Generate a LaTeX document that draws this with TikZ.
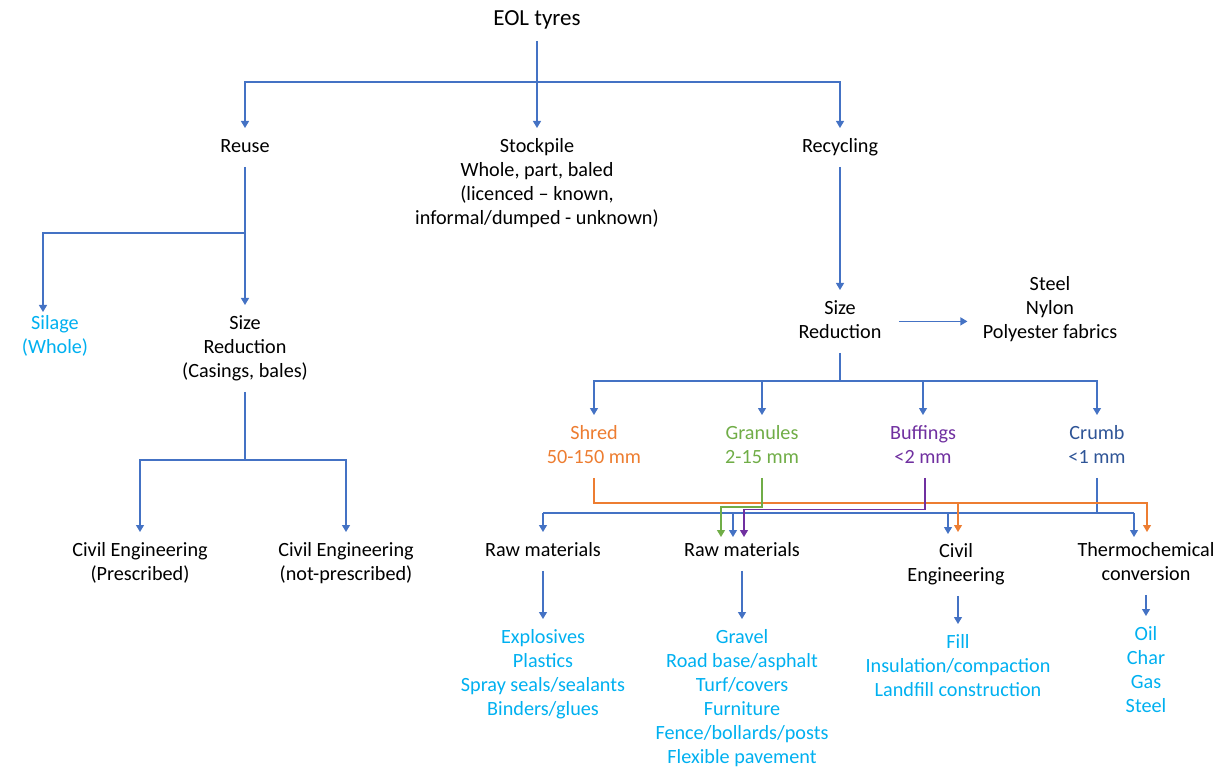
\documentclass[tikz,border=0pt]{standalone}
\usepackage{fontspec}
\setmainfont{Carlito}
\usetikzlibrary{arrows.meta,calc}
\definecolor{lineblue}{HTML}{4472C4}
\definecolor{shredc}{HTML}{ED7D31}
\definecolor{granc}{HTML}{70AD47}
\definecolor{buffc}{HTML}{7030A0}
\definecolor{crumbc}{HTML}{2F5597}
\definecolor{usec}{HTML}{00B0F0}
% centred lines, each with a full strut, so that every label sits the same way under its arrow
\newcommand\mlines[1]{\begin{tabular}{@{}c@{}}#1\end{tabular}}
\begin{document}
\begin{tikzpicture}[x=0.5pt,y=-0.5pt,
  lbl/.style={font=\fontsize{10.1}{12}\selectfont, inner xsep=0pt,
    inner ysep=3.5pt, anchor=north},
  uselbl/.style={lbl, text=usec},
  wire/.style={line width=0.6pt, draw=#1},
  wire/.default=lineblue,
  arr/.style={wire=#1, -{Triangle[width=4pt,length=3.5pt]}},
  arr/.default=lineblue]
\useasboundingbox (0,0) rectangle (1229,769);

% ---- nodes ----
\node[lbl, font=\fontsize{11.5}{13}\selectfont] (eol) at (537,0) {\mlines{EOL tyres}};
\node[lbl] (reuse) at (245,128) {\mlines{Reuse}};
\node[lbl] (stock) at (537,128) {\mlines{Stockpile\\Whole, part, baled\\(licenced – known,\\informal/dumped - unknown)}};
\node[lbl] (recyc) at (840,128) {\mlines{Recycling}};

\node[uselbl] (silage) at (55,305) {\mlines{Silage\\(Whole)}};
\node[lbl] (sr1) at (245,305) {\mlines{Size\\Reduction\\(Casings, bales)}};
\node[lbl] (ce1) at (140,532) {\mlines{Civil Engineering\\(Prescribed)}};
\node[lbl] (ce2) at (346,532) {\mlines{Civil Engineering\\(not-prescribed)}};

\node[lbl] (sr2) at (840,290) {\mlines{Size\\Reduction}};
\node[lbl] (metals) at (1050,266) {\mlines{Steel\\Nylon\\Polyester fabrics}};

\node[lbl, text=shredc] (shred) at (594,415) {\mlines{Shred\\50-150 mm}};
\node[lbl, text=granc] (gran) at (762,415) {\mlines{Granules\\2-15 mm}};
\node[lbl, text=buffc] (buff) at (923,415) {\mlines{Buffings\\<2 mm}};
\node[lbl, text=crumbc] (crumb) at (1097,415) {\mlines{Crumb\\<1 mm}};

\node[lbl] (raw1) at (543,532) {\mlines{Raw materials}};
\node[lbl] (raw2) at (742,532) {\mlines{Raw materials}};
\node[lbl] (civ) at (956,533) {\mlines{Civil\\Engineering}};
\node[lbl] (thermo) at (1146,532) {\mlines{Thermochemical\\conversion}};

\node[uselbl] (o1) at (543,619) {\mlines{Explosives\\Plastics\\Spray seals/sealants\\Binders/glues}};
\node[uselbl] (o2) at (742,619) {\mlines{Gravel\\Road base/asphalt\\Turf/covers\\Furniture\\Fence/bollards/posts\\Flexible pavement}};
\node[uselbl] (o3) at (958,624) {\mlines{Fill\\Insulation/compaction\\Landfill construction}};
\node[uselbl] (o4) at (1146,616) {\mlines{Oil\\Char\\Gas\\Steel}};

% ---- junctions and arrow tips ----
\coordinate (j0) at (537,82);
\coordinate (j1) at (245,233);
\coordinate (j2) at (245,460);
\coordinate (j3) at (840,381);
\path (0,503) coordinate (yO) (0,507) coordinate (yG) (0,509.5) coordinate (yP) (0,513) coordinate (yB);
\coordinate (tGraw) at ($(raw2.north)+(-21,5)$);
\coordinate (tBraw) at ($(raw2.north)+(-9,5)$);
\coordinate (tPraw) at ($(raw2.north)+(2,5)$);
\coordinate (tBciv) at ($(civ.north)+(-8,1)$);
\coordinate (tOciv) at ($(civ.north)+(2,-1)$);
\coordinate (tBth) at ($(thermo.north)+(-12,5)$);
\coordinate (tOth) at ($(thermo.north)+(1,0)$);

% ---- top level ----
\draw[arr] (eol.south) -- (stock.north);
\draw[arr] (j0) -| (reuse.north);
\draw[arr] (j0) -| (recyc.north);

% ---- reuse branch ----
\draw[arr] (reuse.south) -- (sr1.north);
\draw[arr] (j1) -| ([xshift=-6pt,yshift=-3.5pt]silage.north);
\draw[arr] (sr1.south) -- (j2) -| (ce1.north);
\draw[arr] (j2) -| (ce2.north);

% ---- recycling branch ----
\draw[arr] (recyc.south) -- (sr2.north);
\draw[arr] ([xshift=8.5pt]sr2.east) -- ([xshift=-7.5pt]metals.west |- sr2.east);
\draw[arr] (sr2.south) -- (j3) -| (shred.north);
\draw[arr] (j3) -| (gran.north);
\draw[arr] (j3) -| (buff.north);
\draw[arr] (j3) -| (crumb.north);

% ---- crumb bus (blue) ----
\draw[wire] (crumb.south) -- (crumb.south |- yB);
\draw[wire] (raw1.north |- yB) -- (tBth |- yB);
\draw[arr] (raw1.north |- yB) -- (raw1.north);
\draw[arr] (tBraw |- yB) -- (tBraw);
\draw[arr] (tBciv |- yB) -- (tBciv);
\draw[arr] (tBth |- yB) -- (tBth);

% ---- shred (orange) ----
\draw[arr=shredc] (shred.south) |- (tOth |- yO) -- (tOth);
\draw[arr=shredc] (tOciv |- yO) -- (tOciv);

% ---- granules (green) ----
\draw[arr=granc] (gran.south) |- (tGraw |- yG) -- (tGraw);

% ---- buffings (purple) ----
\draw[arr=buffc] ([xshift=1pt]buff.south) |- (tPraw |- yP) -- (tPraw);

% ---- outputs ----
\draw[arr] (raw1.south) -- (o1.north);
\draw[arr] (raw2.south) -- (o2.north);
\draw[arr] ([xshift=1pt]civ.south) -- (o3.north);
\draw[arr] (thermo.south) -- (o4.north);
\end{tikzpicture}
\end{document}
